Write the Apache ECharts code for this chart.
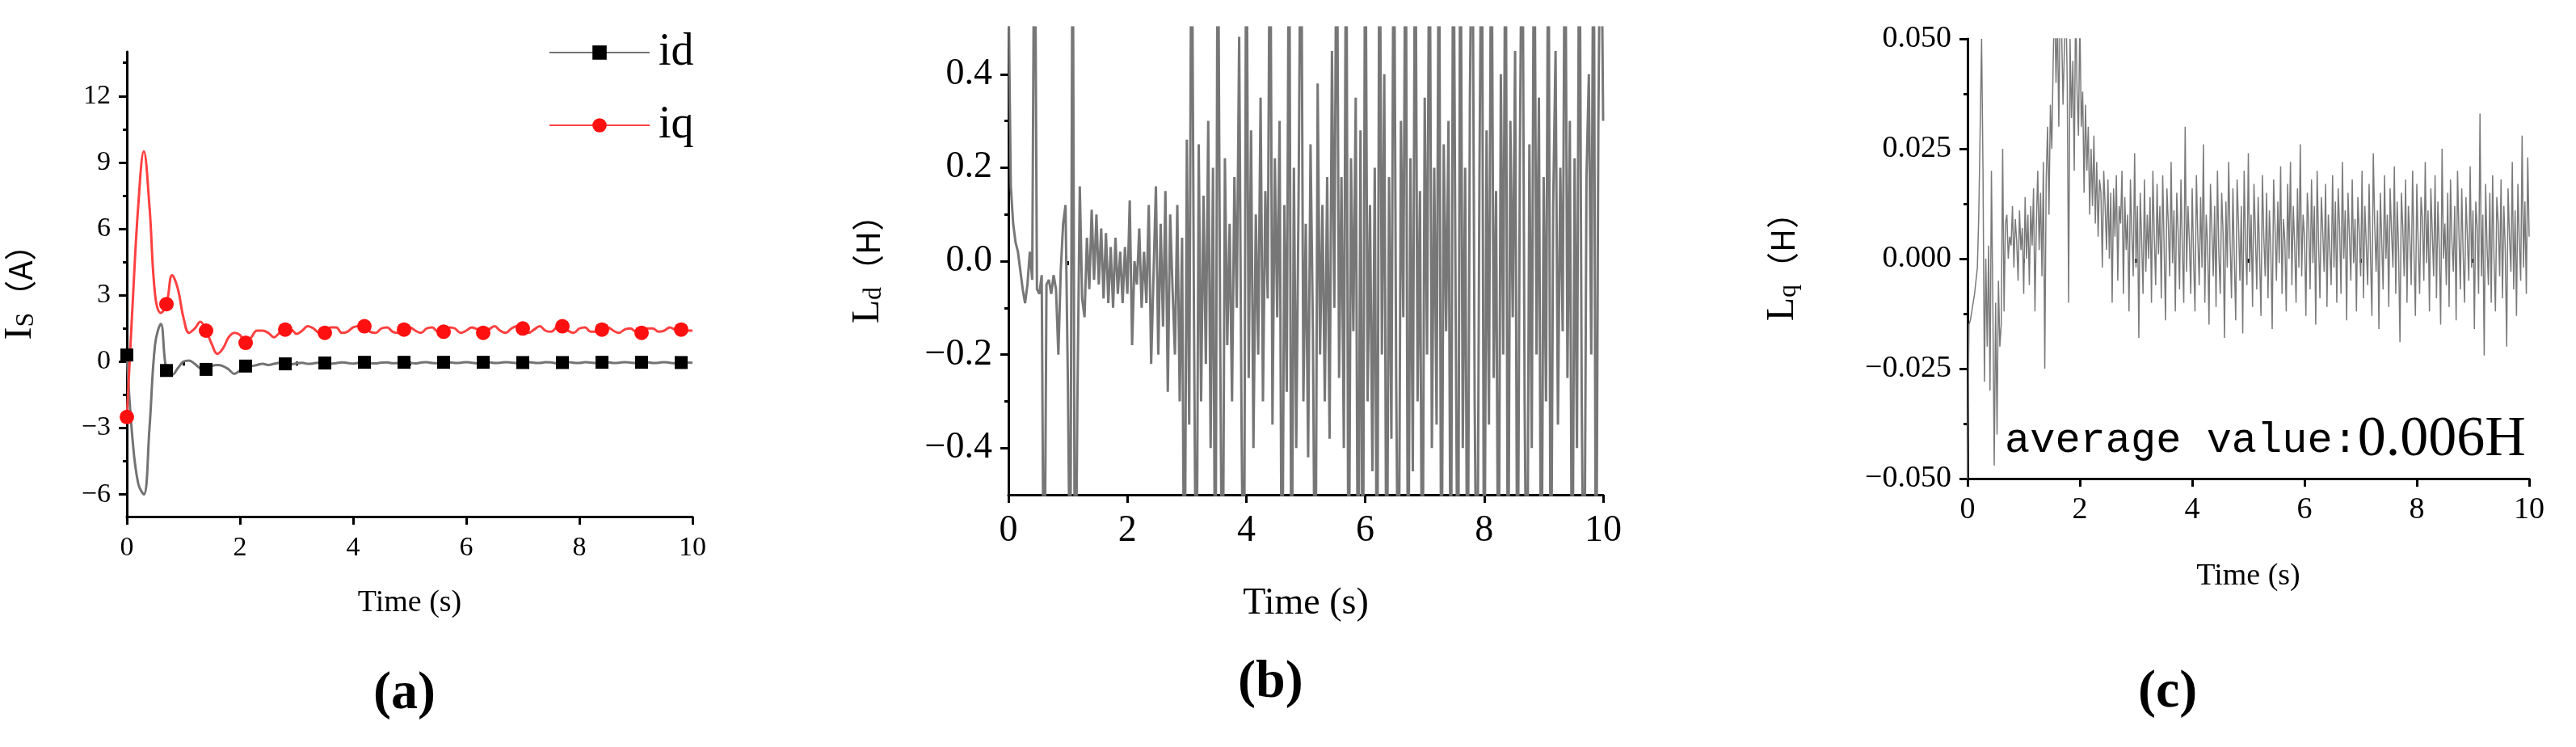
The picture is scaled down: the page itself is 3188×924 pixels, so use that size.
<!DOCTYPE html>
<html><head><meta charset="utf-8">
<script src="https://cdn.jsdelivr.net/npm/echarts@6/dist/echarts.min.js"></script>
<style>html,body{margin:0;padding:0;background:#fff}#c{width:3188px;height:924px}</style>
</head><body><div id="c"></div>
<script>
// ---- data ----
const dtA = 0.1;
const idVals = [0.3,-3.5,-5.5,-6.0,-3.0,0.8,1.7,-0.4,-0.6,-0.3,
 0,0.05,-0.1,-0.3,-0.35,-0.2,-0.15,-0.2,-0.35,-0.55,
 -0.4,-0.2,-0.2,-0.15,-0.1,-0.15,-0.1,-0.05,-0.1,-0.12,
 -0.08,-0.05,-0.1,-0.08,-0.04,-0.06,-0.1,-0.07,-0.03,-0.06,
 -0.09,-0.05,-0.03,-0.07,-0.08,-0.04,-0.03,-0.07,-0.06,-0.03,
 -0.05,-0.08,-0.04,-0.02,-0.06,-0.07,-0.03,-0.03,-0.06,-0.05,
 -0.02,-0.05,-0.07,-0.03,-0.02,-0.06,-0.05,-0.02,-0.04,-0.07,
 -0.04,-0.02,-0.05,-0.06,-0.02,-0.03,-0.07,-0.04,-0.02,-0.05,
 -0.06,-0.02,-0.04,-0.06,-0.03,-0.02,-0.06,-0.05,-0.02,-0.04,
 -0.07,-0.03,-0.02,-0.06,-0.05,-0.02,-0.05,-0.07,-0.04,-0.03,-0.05];
const iqVals = [-2.5,2.5,7.0,9.5,7.0,3.0,2.2,2.6,3.9,3.3,
 2.0,1.3,1.5,1.8,1.4,0.8,0.35,0.6,1.1,1.3,
 1.2,0.85,1.1,1.4,1.4,1.3,1.1,1.3,1.45,1.45,
 1.25,1.4,1.6,1.5,1.3,1.3,1.55,1.55,1.3,1.35,
 1.55,1.6,1.6,1.35,1.3,1.5,1.55,1.35,1.3,1.45,
 1.55,1.4,1.3,1.5,1.55,1.35,1.35,1.55,1.5,1.3,
 1.4,1.55,1.45,1.3,1.45,1.6,1.4,1.3,1.5,1.6,
 1.5,1.3,1.45,1.6,1.4,1.35,1.55,1.6,1.4,1.3,
 1.5,1.55,1.35,1.35,1.45,1.55,1.4,1.3,1.45,1.5,
 1.35,1.3,1.5,1.5,1.35,1.4,1.55,1.45,1.45,1.4,1.4];
const markerStep = 7; // a marker every 0.7 s

const dtB = 0.04; // Ld in units of 0.01 H
const ldVals = [60,16,8,4,2,-2,-6,-9,-5,2,
 -4,90,-6,-7,-3,-90,-5,-4,-7,-3,
 -6,-20,-2,8,12,-26,-80,90,-90,-30,
 16,-8,-12,5,-6,11,-4,10,-5,7,
 -8,6,-9,3,-10,5,-7,2,-9,3,
 -7,13,-18,0,-5,7,-10,2,-9,12,
 -22,-3,16,-20,8,-14,15,-28,10,-6,
 -20,12,-30,5,-90,26,-35,90,-12,-90,
 25,-30,14,-22,30,-40,20,-90,90,-15,
 -90,22,-18,8,-30,18,-10,48,-35,-90,
 90,-25,28,-40,10,-20,35,-30,15,-8,
 90,-35,22,-12,30,-90,12,-28,90,-90,
 20,-40,15,90,-30,8,-42,25,-15,-90,
 38,-20,12,-30,18,-38,45,-10,90,-25,
 18,-40,90,-90,22,-15,35,-90,28,-90,
 90,-30,12,-45,20,-90,90,-20,40,-90,
 18,-38,90,-25,-90,30,-12,90,-90,22,
 -45,90,-30,15,-90,35,-20,90,-40,20,
 -35,90,-90,25,-15,30,-90,90,-10,-90,
 90,-40,20,-90,35,90,-30,-90,18,90,
 -90,28,-35,90,-25,15,-90,40,-20,90,
 -90,30,-12,45,-90,22,90,-30,-90,25,
 -40,90,-20,35,-90,18,-30,90,-90,12,
 45,-35,20,-15,90,-25,30,-90,22,-40,
 90,-30,-90,18,40,-20,90,-90,30,90,30];

const dtC = 0.025; // Lq in units of 0.001 H
const lqVals = [-50,-15,-14,-12,-10,-8,-5,-2,10,30,50,20,-28,0,-20,3,-30,20,-10,-47,
 -10,-40,-5,-20,-15,25,-12,8,10,0,5,3,12,-2,9,4,-5,11,2,7,
 -8,14,0,10,-6,12,3,16,-12,8,20,2,15,-4,22,-25,18,30,10,35,
 25,45,60,40,55,30,60,52,35,48,60,40,-10,50,32,45,20,60,38,28,
 55,30,38,15,35,20,30,10,25,12,28,8,22,5,18,15,-2,20,12,2,
 18,0,15,-10,16,5,19,-5,12,8,20,-8,14,2,10,-12,18,6,-4,24,
 -2,12,-18,15,4,-8,18,-3,10,0,14,-10,20,5,-6,17,1,12,-9,19,
 3,-14,16,8,-4,22,-1,11,-12,15,6,-7,18,2,-10,30,-3,12,4,-8,
 16,0,-12,19,5,-6,14,-2,26,-10,10,3,-15,17,7,-4,12,-11,20,1,
 -8,15,6,-18,13,-2,22,4,-9,16,0,-14,18,8,-5,12,-17,20,3,-6,
 24,-3,10,-11,17,6,-7,14,1,-13,19,5,-4,15,-9,11,2,-16,18,7,
 -5,13,-1,21,-8,9,4,-12,17,0,22,-6,12,3,-10,16,-2,26,-4,10,
 5,-13,15,8,-7,18,-1,12,-15,20,4,-9,14,6,-3,17,-11,10,2,-6,
 19,-2,13,-10,16,7,-8,22,0,11,-14,15,5,-5,18,-1,9,-12,14,6,
 -4,20,-9,12,3,-6,17,1,-13,24,8,-3,11,-16,15,4,-7,19,0,10,
 -11,16,6,-2,21,-8,13,2,-19,15,7,-4,18,-10,12,5,-6,20,1,-13,
 17,3,-8,14,9,-5,22,-1,11,-12,16,6,-4,19,-9,13,2,-15,25,0,
 8,-6,15,-11,18,4,-3,12,-14,20,6,-7,16,1,-10,14,5,-5,21,-2,
 11,-16,13,7,-8,33,-4,10,-22,17,3,-6,15,-10,19,0,-12,14,8,-4,
 18,-9,12,2,-20,16,5,-3,22,-7,11,-13,17,4,-5,28,-2,13,-8,23,5];

const xTicksMajor = [0,2,4,6,8,10];
const xTicksMinor = [1,3,5,7,9];
const aYLabels = [-6,-3,0,3,6,9,12];
const aYMinor = [-4.5,-1.5,1.5,4.5,7.5,10.5,13.5];
const bYLabels = [-0.4,-0.2,0,0.2,0.4];
const bYMinor = [-0.3,-0.1,0.1,0.3];
const cYLabels = [-0.05,-0.025,0,0.025,0.05];
const cYMinor = [-0.0375,-0.0125,0.0125,0.0375];

// ---- build ----
const pairs = (vals, dt, k) => vals.map((v,i)=>[+(i*dt).toFixed(3), v*k]);
const serif = 'Liberation Serif';
const axLine = {lineStyle:{color:'#000',width:3}};
const near = (v, list) => list.some(l => Math.abs(l - v) < 1e-9);
const pick = (list, f) => (v => near(v, list) ? f(v).replace('-', '\u2212') : '');

function xAxes(gi, fs, margin, gap, nfs){
  return [
   {type:'value',gridIndex:gi,min:0,max:10,interval:1,axisLine:{...axLine,onZero:false},
    axisTick:{customValues:xTicksMajor,length:10,lineStyle:{width:3,color:'#000'}},
    axisLabel:{fontFamily:serif,fontSize:fs,color:'#000',margin:margin,formatter:pick(xTicksMajor,v=>String(v))},
    splitLine:{show:false},name:'Time (s)',nameLocation:'middle',nameGap:gap,
    nameTextStyle:{fontFamily:serif,fontSize:nfs,color:'#000'}},
   {type:'value',gridIndex:gi,min:0,max:10,position:'bottom',axisLine:{show:false},
    axisTick:{customValues:xTicksMinor,length:5,lineStyle:{width:3,color:'#000'}},
    axisLabel:{show:false},splitLine:{show:false}}
  ];
}
function yAxes(gi,min,max,step,labels,minor,fs,fmt,name,gap){
  return [
   {type:'value',gridIndex:gi,min:min,max:max,interval:step,axisLine:{...axLine,onZero:false},
    axisTick:{customValues:labels,length:10,lineStyle:{width:3,color:'#000'}},
    axisLabel:{fontFamily:serif,fontSize:fs,color:'#000',margin:20,formatter:pick(labels,fmt)},
    splitLine:{show:false},name:name,nameLocation:'middle',nameGap:gap,nameRotate:90,
    nameTextStyle:{rich:{m:{fontFamily:serif,fontSize:48,color:'#000'},s:{fontFamily:serif,fontSize:32,color:'#000',verticalAlign:'bottom',padding:[14,0,0,0]},p:{fontFamily:'Noto Sans CJK SC',fontSize:40,color:'#000'}}}},
   {type:'value',gridIndex:gi,min:min,max:max,position:'left',axisLine:{show:false},
    axisTick:{customValues:minor,length:5,lineStyle:{width:3,color:'#000'}},
    axisLabel:{show:false},splitLine:{show:false}}
  ];
}
const fmtA = v => String(Math.round(v));
const fmtB = v => v.toFixed(1);
const fmtC = v => v.toFixed(3);

const idData = pairs(idVals,dtA,1).map((p,i)=> i%markerStep===0 ? {value:p} : {value:p,symbol:'none'});
const iqData = pairs(iqVals,dtA,1).map((p,i)=> i%markerStep===0 ? {value:p} : {value:p,symbol:'none'});

const option = {
  animation:false,
  textStyle:{fontFamily:serif},
  grid:[
    {left:157,top:64,width:700,height:575},
    {left:1248,top:34,width:736,height:578},
    {left:2435,top:48,width:695,height:544}
  ],
  xAxis:[...xAxes(0,34,22,88,38),...xAxes(1,46,22,112,46),...xAxes(2,38,20,102,38)],
  yAxis:[
    ...yAxes(0,-7,14,1,aYLabels,aYMinor,34,fmtA,'{m|I}{s|S}{p|（A）}',108),
    ...yAxes(1,-0.5,0.5,0.1,bYLabels,bYMinor,46,fmtB,'{m|L}{s|d}{p|（H）}',150),
    ...yAxes(2,-0.05,0.05,0.0125,cYLabels,cYMinor,38,fmtC,'{m|L}{s|q}{p|（H）}',205)
  ],
  legend:{left:674,top:32,orient:'vertical',itemWidth:124,itemHeight:22,itemGap:34,
    textStyle:{fontFamily:serif,fontSize:56,color:'#000',padding:[0,0,0,6]},data:['id','iq']},
  series:[
    {name:'id',type:'line',xAxisIndex:0,yAxisIndex:0,smooth:0.4,symbol:'rect',symbolSize:16,
     lineStyle:{color:'#737373',width:3},itemStyle:{color:'#000'},data:idData},
    {name:'iq',type:'line',xAxisIndex:0,yAxisIndex:0,smooth:0.4,symbol:'circle',symbolSize:18,
     lineStyle:{color:'#ff4040',width:3},itemStyle:{color:'#ff1010'},data:iqData},
    {name:'Ld',type:'line',xAxisIndex:2,yAxisIndex:2,symbol:'none',clip:true,
     lineStyle:{color:'#777',width:3},data:pairs(ldVals,dtB,0.01)},
    {name:'Lq',type:'line',xAxisIndex:4,yAxisIndex:4,symbol:'none',clip:true,
     lineStyle:{color:'#7a7a7a',width:1.5},data:pairs(lqVals,dtC,0.001)}
  ],
  graphic:[
    {type:'text',left:2481,top:510,style:{text:'{a|average value:}{b|0.006H}',
      rich:{a:{fontFamily:'Liberation Mono',fontSize:52,fill:'#000'},b:{fontFamily:serif,fontSize:70,fill:'#000'}}}},
    {type:'text',left:462,top:826,style:{text:'(a)',fontFamily:serif,fontSize:66,fontWeight:'bold',fill:'#000'}},
    {type:'text',left:1532,top:812,style:{text:'(b)',fontFamily:serif,fontSize:66,fontWeight:'bold',fill:'#000'}},
    {type:'text',left:2646,top:824,style:{text:'(c)',fontFamily:serif,fontSize:66,fontWeight:'bold',fill:'#000'}}
  ]
};
echarts.init(document.getElementById('c')).setOption(option);
</script></body></html>
